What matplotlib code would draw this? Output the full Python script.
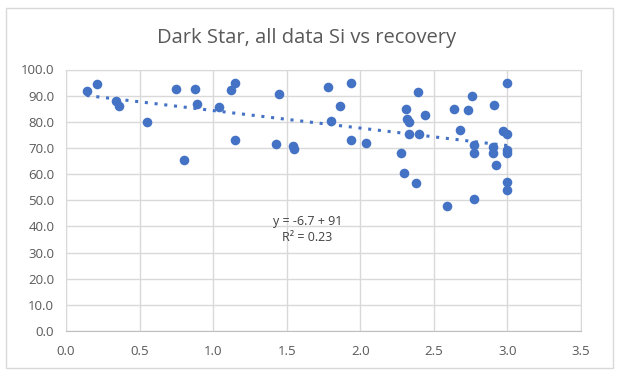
import numpy as np
import matplotlib
matplotlib.use("Agg")
import matplotlib.pyplot as plt
from matplotlib.patches import Rectangle
from matplotlib.ticker import FormatStrFormatter

# Si vs recovery
si = [0.14, 0.21, 0.34, 0.36, 0.55, 0.75, 0.80, 0.88, 0.89, 1.04,
      1.12, 1.15, 1.15, 1.45, 1.43, 1.54, 1.55, 1.78, 1.80, 1.86,
      1.94, 1.94, 2.04, 2.39, 2.31, 2.32, 2.33, 2.44, 2.33, 2.40,
      2.28, 2.30, 2.38, 2.59, 2.76, 2.64, 2.73, 2.91, 2.68, 3.00,
      2.97, 3.00, 2.77, 2.77, 2.90, 2.90, 3.00, 3.00, 2.92, 3.00,
      3.00, 2.77]
recovery = [91.8, 94.6, 87.8, 86.2, 79.9, 92.7, 65.4, 92.7, 86.8, 85.5,
            92.0, 94.7, 72.9, 90.7, 71.6, 70.7, 69.6, 93.4, 80.2, 85.9,
            94.7, 73.0, 71.8, 91.3, 84.8, 81.0, 79.9, 82.6, 75.2, 75.2,
            68.2, 60.5, 56.5, 47.8, 90.0, 84.8, 84.5, 86.3, 76.9, 94.7,
            76.6, 75.3, 71.1, 68.0, 70.5, 68.0, 69.2, 68.0, 63.4, 57.1,
            53.9, 50.5]

slope, intercept = -6.7, 91.0
eq_text = "y = -6.7 + 91"
r2_text = "R² = 0.23"

plt.rcParams['font.family'] = ['Open Sans', 'DejaVu Sans']

fig = plt.figure(figsize=(6.2, 3.8), dpi=100)
ax = fig.add_axes([66/620, 1-331/380, (581-66)/620, (331-69.5)/380])

# outer chart border
fig.patches.append(Rectangle((6/620, 1-368/380), 607/620, 360/380,
                             transform=fig.transFigure, fill=False,
                             edgecolor='#D9D9D9', lw=1))

ax.scatter(si, recovery, s=48, color='#4472C4', zorder=3, linewidths=0)

xs = np.array([min(si), max(si)])
ax.plot(xs, slope*xs + intercept, linestyle=(0, (1, 2.2)), lw=2.2,
        color='#4472C4', zorder=2)

ax.set_xlim(0, 3.5)
ax.set_ylim(0, 100)
ax.set_xticks(np.arange(0, 3.51, 0.5))
ax.set_yticks(np.arange(0, 100.1, 10))
ax.xaxis.set_major_formatter(FormatStrFormatter('%.1f'))
ax.yaxis.set_major_formatter(FormatStrFormatter('%.1f'))
ax.tick_params(length=0, labelsize=9.5, colors='#595959')
ax.tick_params(axis='y', pad=8.5)
ax.tick_params(axis='x', pad=10)
ax.grid(True, color='#D9D9D9', lw=1)
ax.set_axisbelow(True)
for s in ax.spines.values():
    s.set_color('#D9D9D9')
ax.spines['bottom'].set_color('#BFBFBF')

fig.text(0.495, 1-38/380, "Dark Star, all data Si vs recovery",
         ha='center', va='center', fontsize=14.5, color='#595959')

ax.text(1.64, 42.0, eq_text, ha='center', va='center', fontsize=9, color='#404040')
ax.text(1.64, 35.8, r2_text, ha='center', va='center', fontsize=9, color='#404040')

fig.savefig("out.png", dpi=100)
